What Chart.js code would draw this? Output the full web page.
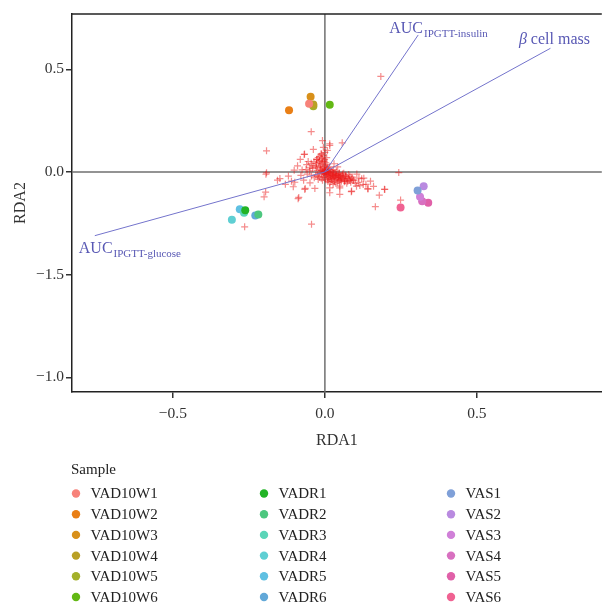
<!DOCTYPE html>
<html>
<head>
<meta charset="utf-8">
<script src="https://cdn.jsdelivr.net/npm/chart.js@4.4.0/dist/chart.umd.min.js"></script>
<style>
    html, body { margin: 0; padding: 0; background: #fff; overflow: hidden; }
    #wrap { width: 602px; height: 603px; overflow: hidden; }
</style>
</head>
<body>
<div id="wrap"><canvas id="rdaChart" width="607" height="603"></canvas></div>
<script>
// Sample scores (site points)
const sampleNames = ['VAD10W1', 'VAD10W2', 'VAD10W3', 'VAD10W4', 'VAD10W5', 'VAD10W6',
    'VADR1', 'VADR2', 'VADR3', 'VADR4', 'VADR5', 'VADR6',
    'VAS1', 'VAS2', 'VAS3', 'VAS4', 'VAS5', 'VAS6'];
const sampleX = [-0.052, -0.118, -0.047, -0.038, -0.038, 0.016,
    -0.262, -0.219, -0.266, -0.306, -0.280, -0.229,
    0.305, 0.325, 0.313, 0.320, 0.340, 0.249];
const sampleY = [0.332, 0.301, 0.366, 0.328, 0.320, 0.327,
    -0.186, -0.207, -0.199, -0.233, -0.181, -0.212,
    -0.090, -0.069, -0.121, -0.142, -0.150, -0.173];
const sampleColors = ['#F7827A', '#E97F16', '#D8901A', '#B9A025', '#A3B02A', '#63B814',
    '#22B426', '#4DC77F', '#5BD5B8', '#5FCFD3', '#5FC0E2', '#62A8D8',
    '#7FA0D8', '#B98AE0', '#D080D8', '#D870C0', '#E060A8', '#F06292'];

// Species scores (red crosses)
const speciesScores = [
    [0.000, 0.010], [0.005, -0.005], [-0.008, 0.004], [0.012, 0.002], [-0.004, -0.012],
    [0.018, -0.010], [0.025, -0.015], [0.030, -0.008], [0.008, 0.020], [-0.015, 0.015],
    [-0.020, -0.005], [0.002, 0.030], [-0.010, 0.040], [0.015, 0.025], [0.035, -0.020],
    [0.040, -0.012], [0.045, -0.025], [0.050, -0.018], [0.055, -0.030], [0.060, -0.022],
    [0.022, -0.028], [0.010, -0.035], [-0.005, -0.025], [-0.025, 0.008], [-0.030, -0.015],
    [-0.012, -0.030], [0.028, 0.012], [0.038, 0.005], [0.003, 0.045], [-0.018, 0.055],
    [-0.008, 0.065], [0.006, 0.070], [-0.030, 0.030], [-0.040, 0.018], [-0.035, -0.028],
    [0.065, -0.040], [0.070, -0.028], [0.075, -0.045], [0.080, -0.035], [0.085, -0.050],
    [0.020, -0.045], [0.032, -0.040], [0.042, -0.050], [0.012, 0.012], [-0.002, 0.002],
    [0.016, -0.002], [0.024, 0.004], [-0.006, 0.022], [0.006, -0.018], [0.048, -0.005],
    [0.058, -0.010], [-0.045, 0.042], [-0.022, 0.070], [-0.012, 0.085], [0.000, 0.095],
    [-0.050, 0.005], [-0.058, -0.010], [0.090, -0.025], [0.095, -0.040], [0.100, -0.055],
    [0.004, -0.008], [0.009, 0.006], [-0.003, 0.014], [0.014, -0.014], [0.020, 0.008],
    [0.026, -0.004], [0.033, -0.026], [0.037, -0.014], [0.043, -0.034], [0.052, -0.038],
    [-0.010, -0.008], [-0.016, 0.026], [-0.024, -0.020], [0.007, 0.036], [-0.004, 0.052],
    [0.062, -0.006], [0.068, -0.016], [0.072, -0.055], [0.036, -0.055], [0.016, -0.052],
    [0.001, -0.002], [0.003, 0.004], [-0.001, 0.007], [0.007, -0.012], [0.011, -0.006],
    [0.019, -0.020], [0.029, -0.018], [-0.006, -0.004], [-0.012, 0.008], [0.006, 0.013],
    [0.013, -0.024], [0.023, -0.036], [0.039, -0.030], [0.046, -0.010], [0.054, -0.045],
    [-0.014, 0.034], [-0.020, 0.046], [-0.026, 0.060], [-0.009, 0.052], [-0.017, 0.076],
    [-0.006, 0.080], [-0.028, 0.022], [-0.036, 0.050], [-0.042, 0.030], [-0.001, 0.060],
    [0.009, -0.028], [0.017, -0.032], [0.027, -0.030], [0.034, -0.008], [0.044, -0.018],
    [0.051, -0.026], [0.057, -0.016], [0.063, -0.032], [0.069, -0.022], [0.076, -0.030],
    [0.083, -0.042], [0.078, -0.012], [0.088, -0.034], [0.064, -0.048], [0.047, -0.042],
    [0.031, -0.048], [0.010, -0.046], [0.002, -0.038], [-0.008, -0.040], [-0.018, -0.024],
    [-0.045, 0.196], [-0.008, 0.153], [0.016, 0.137], [0.057, 0.142], [-0.192, 0.103],
    [-0.067, 0.087], [-0.012, 0.090], [-0.081, 0.061], [-0.055, 0.051], [-0.027, 0.061],
    [-0.101, 0.009], [-0.194, -0.011], [-0.148, -0.032], [-0.156, -0.040], [-0.079, -0.017],
    [-0.104, -0.072], [-0.065, -0.080], [-0.033, -0.080], [-0.195, -0.098], [-0.200, -0.121],
    [-0.086, -0.124], [0.016, -0.077], [0.049, -0.077], [0.087, -0.096], [0.115, -0.066],
    [0.141, -0.082], [0.128, -0.030], [0.196, -0.084], [0.179, -0.113], [0.166, -0.169],
    [0.243, -0.003], [0.249, -0.137], [-0.264, -0.267], [-0.044, -0.254], [0.184, 0.465],
    [-0.099, -0.050], [-0.049, -0.053], [-0.044, -0.020], [-0.022, -0.036], [-0.060, 0.036],
    [-0.049, 0.020], [0.016, 0.129], [0.027, -0.020], [0.049, -0.036], [0.066, -0.045],
    [0.082, -0.020], [0.093, -0.040], [0.110, -0.050], [0.121, -0.033], [0.126, -0.061],
    [0.104, -0.069], [0.088, -0.093], [0.049, -0.069], [0.027, -0.061], [0.016, -0.101],
    [0.049, -0.109], [0.142, -0.082], [0.197, -0.085], [-0.088, -0.130], [-0.066, -0.085],
    [-0.192, -0.004], [-0.068, 0.085], [-0.120, -0.020], [-0.070, -0.040], [-0.038, 0.110],
    [-0.005, 0.120], [0.008, 0.105], [-0.028, 0.040], [-0.062, 0.012], [0.105, -0.010],
    [0.112, -0.030], [0.135, -0.060], [0.150, -0.045], [0.160, -0.070], [-0.110, -0.045],
    [-0.130, -0.060], [-0.075, 0.010], [-0.090, 0.030], [0.030, 0.040], [0.042, 0.025]
];

// Environmental vectors (biplot arrows)
const envMain = ['AUC', 'β cell mass', 'AUC'];
const envSub = ['IPGTT-insulin', '', 'IPGTT-glucose'];
const envX = [0.307, 0.742, -0.757];
const envY = [0.667, 0.602, -0.310];

// Axis ticks
const xTickValues = [-0.5, 0, 0.5];
const xTickLabels = ['\u22120.5', '0.0', '0.5'];
const yTickValues = [-1.0, -0.5, 0, 0.5];
const yTickLabels = ['\u22121.0', '\u22121.5', '0.0', '0.5'];

const SERIF = "'Liberation Serif', 'Times New Roman', serif";
const ENV_COLOR = '#7474CC';
const ENV_TEXT = '#5858B4';

// pixel offsets of arrow labels relative to arrow tips
const envLabelOffsets = [
    { dx: -29, dy: -2, align: 'left' },
    { dx: 4, dy: -4, align: 'center' },
    { dx: -16, dy: 17, align: 'left' }
];

const datasets = [];
sampleNames.forEach((name, i) => {
    datasets.push({
        label: name,
        isSample: true,
        data: [{ x: sampleX[i], y: sampleY[i] }],
        backgroundColor: sampleColors[i],
        borderColor: sampleColors[i],
        borderWidth: 0,
        pointRadius: 4,
        order: 0
    });
});
envMain.forEach((name, i) => {
    datasets.push({
        label: name + envSub[i],
        type: 'line',
        data: [{ x: 0, y: 0 }, { x: envX[i], y: envY[i] }],
        borderColor: ENV_COLOR,
        borderWidth: 1,
        pointRadius: 0,
        fill: false,
        order: 1
    });
});
datasets.push({
    label: 'species',
    data: speciesScores.map(p => ({ x: p[0], y: p[1] })),
    pointStyle: 'cross',
    pointRadius: 3.5,
    borderColor: 'rgba(235, 25, 25, 0.5)',
    backgroundColor: 'rgba(235, 25, 25, 0.5)',
    borderWidth: 1.2,
    order: 2
});

const rdaDecor = {
    id: 'rdaDecor',
    beforeDatasetsDraw(chart) {
        const { ctx, chartArea: a, scales: { x, y } } = chart;
        ctx.save();
        ctx.strokeStyle = '#707070';
        ctx.lineWidth = 1.5;
        const x0 = x.getPixelForValue(0);
        const y0 = y.getPixelForValue(0);
        ctx.beginPath();
        ctx.moveTo(a.left, y0);
        ctx.lineTo(a.right, y0);
        ctx.moveTo(x0, a.top);
        ctx.lineTo(x0, a.bottom);
        ctx.stroke();
        // top border of the panel
        ctx.strokeStyle = '#222';
        ctx.beginPath();
        ctx.moveTo(a.left - 0.75, a.top);
        ctx.lineTo(a.right, a.top);
        ctx.stroke();
        ctx.restore();
    },
    afterDatasetsDraw(chart) {
        const { ctx, scales: { x, y } } = chart;
        ctx.save();
        ctx.fillStyle = ENV_TEXT;
        ctx.textBaseline = 'alphabetic';
        envMain.forEach((main, i) => {
            const off = envLabelOffsets[i];
            const px = x.getPixelForValue(envX[i]) + off.dx;
            const py = y.getPixelForValue(envY[i]) + off.dy;
            const mainFont = '16px ' + SERIF;
            const subFont = '11px ' + SERIF;
            let greek = '';
            let rest = main;
            if (main.startsWith('β')) { greek = 'β'; rest = main.slice(1); }
            ctx.font = 'italic ' + mainFont;
            const wg = greek ? ctx.measureText(greek).width : 0;
            ctx.font = mainFont;
            const wm = ctx.measureText(rest).width;
            ctx.font = subFont;
            const ws = envSub[i] ? ctx.measureText(envSub[i]).width : 0;
            let left = px;
            if (off.align === 'center') left = px - (wg + wm + ws) / 2;
            ctx.textAlign = 'left';
            if (greek) {
                ctx.font = 'italic ' + mainFont;
                ctx.fillText(greek, left, py);
            }
            ctx.font = mainFont;
            ctx.fillText(rest, left + wg, py);
            if (envSub[i]) {
                ctx.font = subFont;
                ctx.fillText(envSub[i], left + wg + wm + 1, py + 4);
            }
        });
        ctx.restore();
    },
    afterDraw(chart) {
        const { ctx } = chart;
        const cols = [76, 264, 451];
        const rowTop = 493.5;
        const rowStep = 20.7;
        ctx.save();
        ctx.textBaseline = 'middle';
        ctx.textAlign = 'left';
        ctx.fillStyle = '#222';
        ctx.font = '15px ' + SERIF;
        ctx.fillText('Sample', 71, 470);
        const items = chart.data.datasets.filter(d => d.isSample);
        items.forEach((d, i) => {
            const col = Math.floor(i / 6);
            const row = i % 6;
            const cx = cols[col];
            const cy = rowTop + row * rowStep;
            ctx.fillStyle = d.backgroundColor;
            ctx.beginPath();
            ctx.arc(cx, cy, 4.2, 0, Math.PI * 2);
            ctx.fill();
            ctx.fillStyle = '#222';
            ctx.fillText(d.label, cx + 14.5, cy + 1);
        });
        ctx.restore();
    }
};

new Chart(document.getElementById('rdaChart'), {
    type: 'scatter',
    data: { datasets: datasets },
    plugins: [rdaDecor],
    options: {
        responsive: false,
        animation: false,
        layout: { padding: { top: 14, right: 0, bottom: 151, left: 0 } },
        plugins: {
            legend: { display: false },
            tooltip: { enabled: false }
        },
        scales: {
            x: {
                type: 'linear',
                min: -0.832,
                max: 0.911,
                afterBuildTicks: (scale) => { scale.ticks = xTickValues.map(v => ({ value: v })); },
                afterFit: (scale) => { scale.height = 60; },
                ticks: {
                    color: '#333',
                    font: { family: SERIF, size: 15.5 },
                    padding: 7,
                    callback: (value, index) => xTickLabels[index]
                },
                grid: { drawOnChartArea: false, drawTicks: true, tickLength: 6, color: '#333', lineWidth: 1.5 },
                border: { display: true, color: '#222', width: 1.5 },
                title: {
                    display: true,
                    text: 'RDA1',
                    color: '#333',
                    font: { family: SERIF, size: 16 },
                    padding: { top: 0, bottom: 2 }
                }
            },
            y: {
                type: 'linear',
                min: -1.071,
                max: 0.769,
                afterBuildTicks: (scale) => { scale.ticks = yTickValues.map(v => ({ value: v })); },
                afterFit: (scale) => { scale.width = 72; },
                ticks: {
                    color: '#333',
                    font: { family: SERIF, size: 15.5 },
                    padding: 2,
                    callback: (value, index) => yTickLabels[index]
                },
                grid: { drawOnChartArea: false, drawTicks: true, tickLength: 6, color: '#333', lineWidth: 1.5 },
                border: { display: true, color: '#222', width: 1.5 },
                title: {
                    display: true,
                    text: 'RDA2',
                    color: '#333',
                    font: { family: SERIF, size: 16 },
                    padding: { top: 11, bottom: 0 }
                }
            }
        }
    }
});
</script>
</body>
</html>
